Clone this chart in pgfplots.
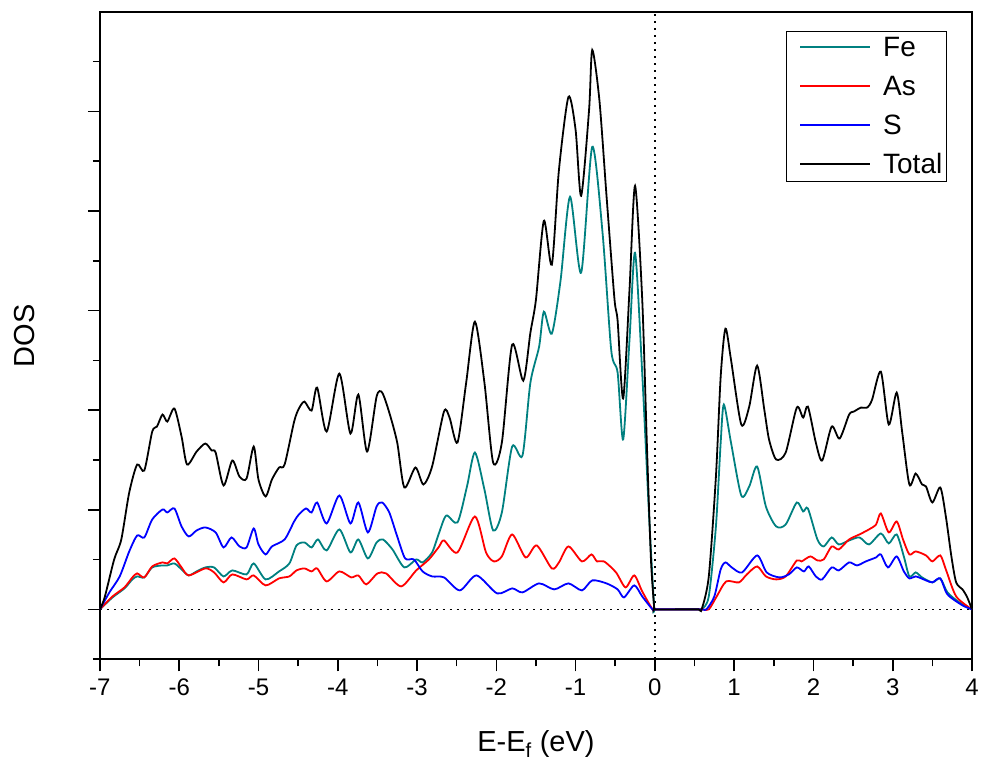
\documentclass[border=0pt]{standalone}
\usepackage{fontspec}
\setmainfont{Liberation Sans}
\usepackage{pgfplots}
\pgfplotsset{compat=1.18}
\definecolor{feteal}{RGB}{0,128,128}
\definecolor{asred}{RGB}{255,0,0}
\definecolor{sblue}{RGB}{0,0,255}
\begin{document}
\begin{tikzpicture}
\begin{axis}[
  scale only axis,
  width=873pt, height=648pt,
  xmin=-7, xmax=4, ymin=-50, ymax=598,
  xtick={-7,-6,-5,-4,-3,-2,-1,0,1,2,3,4},
  minor xtick={-6.5,-5.5,-4.5,-3.5,-2.5,-1.5,-0.5,0.5,1.5,2.5,3.5},
  ytick={0,99.7,199.4,299.1,398.8,498.5},
  minor ytick={-49.85,49.85,149.55,249.25,348.95,448.65,548.35},
  yticklabels={},
  xtick pos=bottom, ytick pos=left,
  tick align=outside,
  major tick length=12pt, minor tick length=7pt,
  every tick/.style={black, line width=1.6pt},
  axis line style={line width=2.2pt},
  /pgf/number format/assume math mode=true,
  ticklabel style={font=\fontsize{24}{28}\selectfont},
  xticklabel style={yshift=-4pt},
  xlabel={E-E\textsubscript{f} (eV)},
  ylabel={DOS},
  every axis x label/.style={at={(axis description cs:0.5,-0.131)}, anchor=center, font=\fontsize{29}{34}\selectfont},
  every axis y label/.style={at={(axis description cs:-0.086,0.5)}, anchor=center, rotate=90, font=\fontsize{29}{34}\selectfont},
  legend style={at={(0.971,0.971)}, anchor=north east, draw=black, line width=0.9pt,
    font=\fontsize{28}{33}\selectfont, row sep=14pt, inner ysep=4pt, inner xsep=2pt},
  legend cell align=left,
  legend image code/.code={\path (-11pt,0pt) (80pt,0pt); \draw[#1, line width=2.2pt] (0pt,0.5pt) -- (70pt,0.5pt);},
  clip=true,
]
\draw[line width=1.3pt, dash pattern=on 2pt off 5pt] (axis cs:-7,0) -- (axis cs:4,0);
\draw[line width=1.3pt, dash pattern=on 2pt off 5pt] (axis cs:0,-50) -- (axis cs:0,598);

% Fe
\addplot[color=feteal, line width=1.8pt, smooth, tension=0.45] coordinates {
(-7.00,0) (-6.84,12) (-6.69,21) (-6.59,30) (-6.53,33) (-6.44,32) (-6.34,42) (-6.21,44) (-6.15,44) (-6.06,46)
(-5.97,40) (-5.88,34) (-5.78,38) (-5.67,42) (-5.56,42) (-5.44,33) (-5.33,39) (-5.15,35) (-5.06,46) (-4.91,30)
(-4.74,38) (-4.61,46) (-4.52,64) (-4.42,67) (-4.33,62) (-4.25,70) (-4.14,59) (-3.98,80) (-3.84,57) (-3.74,70)
(-3.62,51) (-3.51,67) (-3.43,70) (-3.31,60) (-3.16,42) (-3.01,50) (-2.93,47) (-2.81,57) (-2.72,77) (-2.63,94)
(-2.49,87) (-2.37,123) (-2.27,157) (-2.15,120) (-2.04,79) (-1.93,97) (-1.80,163) (-1.67,154) (-1.57,227) (-1.46,263)
(-1.40,298) (-1.30,276) (-1.19,329) (-1.07,413) (-0.93,337) (-0.79,463) (-0.66,377) (-0.55,259) (-0.47,237) (-0.40,170)
(-0.32,270) (-0.25,357) (-0.16,237) (-0.07,89) (-0.01,3) (0.00,0) (0.30,0) (0.55,0) (0.59,0) (0.68,13)
(0.77,83) (0.83,167) (0.87,205) (0.96,167) (1.09,114) (1.19,123) (1.29,143) (1.40,103) (1.53,83) (1.65,85)
(1.79,107) (1.87,98) (1.93,101) (2.05,70) (2.13,63) (2.23,72) (2.32,65) (2.45,69) (2.58,72) (2.70,65)
(2.85,76) (2.95,66) (3.05,75) (3.14,53) (3.21,33) (3.29,37) (3.37,32) (3.50,27) (3.60,31) (3.69,17)
(3.84,7) (4.00,0)
};
\addlegendentry{Fe}

% As
\addplot[color=asred, line width=1.8pt, smooth, tension=0.45] coordinates {
(-7.00,0) (-6.84,13) (-6.69,22) (-6.59,32) (-6.53,36) (-6.44,32) (-6.34,43) (-6.21,47) (-6.15,46) (-6.06,51)
(-5.97,42) (-5.88,34) (-5.67,41) (-5.56,37) (-5.44,27) (-5.33,35) (-5.15,30) (-5.06,34) (-4.91,24) (-4.74,31)
(-4.61,33) (-4.52,39) (-4.42,41) (-4.33,38) (-4.26,41) (-4.14,28) (-3.98,38) (-3.83,32) (-3.74,34) (-3.64,25)
(-3.50,36) (-3.39,36) (-3.20,23) (-3.01,39) (-2.85,50) (-2.72,63) (-2.66,69) (-2.49,57) (-2.27,93) (-2.13,57)
(-2.03,48) (-1.93,53) (-1.80,75) (-1.63,52) (-1.49,64) (-1.30,41) (-1.21,47) (-1.09,63) (-0.92,48) (-0.80,55)
(-0.73,48) (-0.64,48) (-0.49,37) (-0.37,22) (-0.26,34) (-0.16,18) (-0.03,0) (0.00,0) (0.30,0) (0.59,0)
(0.68,0) (0.78,13) (0.90,28) (1.06,27) (1.16,35) (1.29,43) (1.40,33) (1.53,30) (1.65,33) (1.79,49)
(1.85,48) (1.96,53) (2.05,49) (2.13,50) (2.23,63) (2.32,60) (2.45,70) (2.58,75) (2.70,80) (2.79,85)
(2.85,96) (2.95,77) (3.05,88) (3.13,70) (3.21,55) (3.29,58) (3.42,54) (3.50,48) (3.60,54) (3.67,40)
(3.80,13) (4.00,0)
};
\addlegendentry{As}

% S
\addplot[color=sblue, line width=1.8pt, smooth, tension=0.45] coordinates {
(-7.00,0) (-6.88,17) (-6.75,33) (-6.63,58) (-6.53,74) (-6.44,72) (-6.34,90) (-6.21,100) (-6.15,97) (-6.06,101)
(-5.97,83) (-5.88,73) (-5.78,79) (-5.67,82) (-5.54,77) (-5.44,62) (-5.34,72) (-5.24,63) (-5.15,62) (-5.06,81)
(-5.00,65) (-4.91,55) (-4.83,63) (-4.67,70) (-4.55,88) (-4.49,95) (-4.40,101) (-4.33,97) (-4.26,107) (-4.14,86)
(-3.98,114) (-3.84,86) (-3.74,107) (-3.62,77) (-3.51,103) (-3.44,107) (-3.35,97) (-3.25,73) (-3.15,51) (-3.04,50)
(-2.93,38) (-2.81,33) (-2.66,32) (-2.46,19) (-2.25,34) (-1.99,16) (-1.80,21) (-1.67,17) (-1.46,26) (-1.27,20)
(-1.09,26) (-0.92,19) (-0.79,29) (-0.61,26) (-0.47,20) (-0.39,12) (-0.26,24) (-0.16,13) (-0.03,0) (0.00,0)
(0.30,0) (0.59,0) (0.65,0) (0.75,13) (0.83,40) (0.89,47) (0.97,42) (1.10,37) (1.29,54) (1.41,37)
(1.57,32) (1.69,35) (1.79,42) (1.88,38) (1.94,43) (2.03,33) (2.11,30) (2.23,42) (2.32,39) (2.45,47)
(2.55,44) (2.66,48) (2.79,52) (2.85,55) (2.94,42) (3.05,53) (3.14,38) (3.21,31) (3.29,33) (3.42,29)
(3.50,27) (3.60,31) (3.69,15) (3.88,4) (4.00,0)
};
\addlegendentry{S}

% Total
\addplot[color=black, line width=1.8pt, smooth, tension=0.45] coordinates {
(-7.00,0) (-6.94,12) (-6.82,50) (-6.73,70) (-6.63,117) (-6.53,145) (-6.44,139) (-6.34,178) (-6.28,183) (-6.21,195)
(-6.15,188) (-6.06,201) (-5.97,173) (-5.90,145) (-5.78,158) (-5.67,166) (-5.59,159) (-5.54,157) (-5.44,124) (-5.33,149)
(-5.24,133) (-5.15,131) (-5.06,163) (-5.00,130) (-4.91,113) (-4.83,130) (-4.74,142) (-4.67,145) (-4.55,188) (-4.49,201)
(-4.42,208) (-4.33,199) (-4.26,222) (-4.14,178) (-3.98,236) (-3.84,176) (-3.74,215) (-3.63,158) (-3.51,213) (-3.44,217)
(-3.35,197) (-3.25,167) (-3.16,122) (-3.02,142) (-2.92,125) (-2.81,143) (-2.66,198) (-2.59,192) (-2.49,167) (-2.38,227)
(-2.27,288) (-2.15,227) (-2.04,147) (-1.93,167) (-1.80,265) (-1.66,229) (-1.57,277) (-1.50,310) (-1.40,389) (-1.30,345)
(-1.21,440) (-1.09,513) (-1.00,480) (-0.93,414) (-0.83,500) (-0.79,560) (-0.70,510) (-0.61,414) (-0.51,311) (-0.47,289)
(-0.40,211) (-0.32,320) (-0.25,424) (-0.16,311) (-0.10,163) (-0.05,51) (-0.01,3) (0.00,0) (0.30,0) (0.55,0)
(0.59,0) (0.68,33) (0.77,133) (0.83,233) (0.89,281) (0.96,250) (1.09,185) (1.19,203) (1.29,244) (1.38,200)
(1.44,170) (1.53,150) (1.65,157) (1.79,202) (1.87,192) (1.93,203) (2.03,167) (2.11,149) (2.23,183) (2.33,171)
(2.45,195) (2.51,198) (2.60,202) (2.68,202) (2.74,210) (2.85,238) (2.95,185) (3.05,217) (3.12,177) (3.21,125)
(3.29,136) (3.37,125) (3.42,123) (3.50,107) (3.60,122) (3.67,93) (3.74,53) (3.80,27) (3.88,20) (3.94,12)
(4.00,0)
};
\addlegendentry{Total}
\end{axis}
\path ([xshift=-100pt,yshift=-102pt]current axis.south west) rectangle ([xshift=9pt,yshift=12pt]current axis.north east);
\end{tikzpicture}
\end{document}
